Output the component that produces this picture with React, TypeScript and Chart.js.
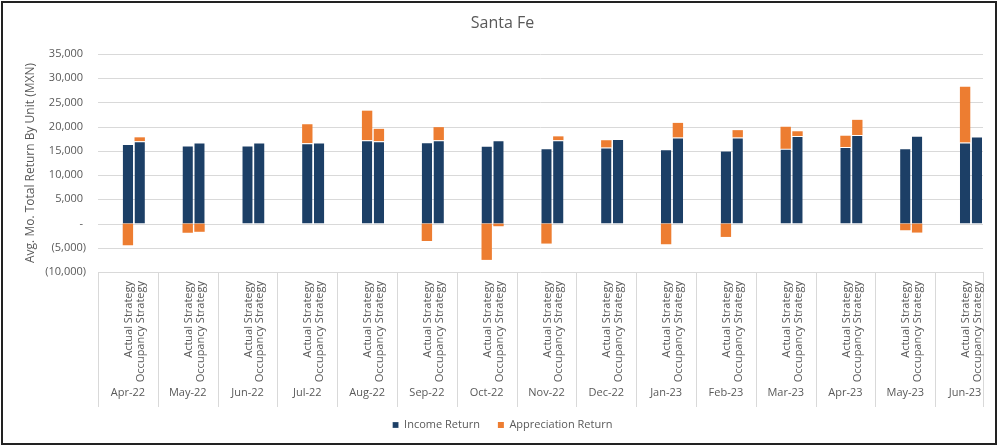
import { useEffect, useRef } from "react";
import { Chart, registerables } from "chart.js";

Chart.register(...registerables);

const months = [
  "Apr-22", "May-22", "Jun-22", "Jul-22", "Aug-22", "Sep-22", "Oct-22", "Nov-22",
  "Dec-22", "Jan-23", "Feb-23", "Mar-23", "Apr-23", "May-23", "Jun-23",
];
const strategies = ["Actual Strategy", "Occupancy Strategy"];
const seriesNames = ["Income Return", "Appreciation Return"];

const incomeActual = [16400, 16100, 16100, 16600, 17200, 16800, 16050, 15570, 15700, 15360, 15090, 15430, 15780, 15570, 16740];
const appreciationActual = [-4480, -1900, 0, 3900, 6100, -3600, -7500, -4130, 1500, -4270, -2760, 4550, 2350, -1380, 11500];
const incomeOccupancy = [17000, 16750, 16750, 16750, 17000, 17200, 17200, 17200, 17430, 17780, 17780, 18050, 18260, 18120, 17980];
const appreciationOccupancy = [800, -1700, 0, 0, 2550, 2700, -550, 800, 0, 3000, 1500, 1000, 3150, -1860, 0];

const yMin = -10000;
const yMax = 35000;
const yStep = 5000;

const NAVY = "#1c3f66";
const ORANGE = "#ED7D31";
const TEXT = "#595959";
const GRID = "#d9d9d9";
const FONT = "'Open Sans', sans-serif";
const CLIP_RIGHT = 12;
const TABLE_H = 135;
const PAD_LEFT = 10;

function fmt(v: number): string {
  if (v === 0) return "- ";
  const s = Math.abs(v).toLocaleString("en-US");
  return v < 0 ? `(${s})` : `${s} `;
}

const tablePlugin = {
  id: "tableAxis",
  beforeDatasetsDraw(chart: any) {
    const { ctx, chartArea, scales } = chart;
    const y = scales.y;
    ctx.save();
    ctx.strokeStyle = GRID;
    ctx.lineWidth = 1;
    y.ticks.forEach((t: any) => {
      const py = Math.round(y.getPixelForValue(t.value)) + 0.5;
      ctx.beginPath();
      ctx.moveTo(chartArea.left, py);
      ctx.lineTo(chartArea.right - CLIP_RIGHT, py);
      ctx.stroke();
    });
    ctx.restore();
  },
  afterDraw(chart: any) {
    const { ctx, chartArea, scales } = chart;
    const x = scales.x;
    const n = months.length;
    const w = (chartArea.right - chartArea.left) / n;
    const top = chartArea.bottom;
    const bottom = top + TABLE_H;
    const rightLimit = chartArea.right - CLIP_RIGHT;

    ctx.save();
    ctx.beginPath();
    ctx.rect(0, 0, rightLimit + 1, chart.height);
    ctx.clip();

    ctx.strokeStyle = GRID;
    ctx.lineWidth = 1;
    for (let k = 0; k < n; k++) {
      const px = Math.round(x.getPixelForValue(k) - w / 2) + 0.5;
      ctx.beginPath();
      ctx.moveTo(px, top);
      ctx.lineTo(px, bottom);
      ctx.stroke();
    }
    const rx = Math.round(rightLimit) + 0.5;
    ctx.beginPath();
    ctx.moveTo(rx, top);
    ctx.lineTo(rx, bottom);
    ctx.stroke();

    ctx.fillStyle = TEXT;
    ctx.font = `11px ${FONT}`;
    const stratMetas = [chart.getDatasetMeta(1), chart.getDatasetMeta(3)];
    for (let j = 0; j < n; j++) {
      stratMetas.forEach((meta: any, s: number) => {
        const el = meta.data[j];
        if (!el) return;
        ctx.save();
        ctx.translate(el.x + 1, top + 9);
        ctx.rotate(-Math.PI / 2);
        ctx.textAlign = "right";
        ctx.textBaseline = "middle";
        ctx.fillText(strategies[s], 0, 0);
        ctx.restore();
      });
      ctx.textAlign = "center";
      ctx.textBaseline = "middle";
      ctx.fillText(months[j], x.getPixelForValue(j), top + 121);
    }
    ctx.restore();

    ctx.save();
    ctx.strokeStyle = "#222222";
    ctx.lineWidth = 2;
    ctx.strokeRect(2, 2, 994, 442);
    ctx.restore();
  },
};

export default function App() {
  const ref = useRef<HTMLCanvasElement | null>(null);

  useEffect(() => {
    if (!ref.current) return;
    const clip = { left: 5, top: 5, right: -CLIP_RIGHT, bottom: 5 };
    const chart = new Chart(ref.current, {
      type: "bar",
      data: {
        labels: months,
        datasets: [
          {
            label: "spacer",
            data: months.map(() => null),
            stack: "S",
            backgroundColor: "rgba(0,0,0,0)",
          },
          {
            label: seriesNames[0],
            data: incomeActual,
            stack: "A",
            backgroundColor: NAVY,
            borderColor: "#ffffff",
            borderWidth: { top: 1, right: 0, bottom: 0, left: 0 },
            borderSkipped: false,
            clip,
          },
          {
            label: seriesNames[1],
            data: appreciationActual,
            stack: "A",
            backgroundColor: ORANGE,
            borderWidth: 0,
            clip,
          },
          {
            label: seriesNames[0],
            data: incomeOccupancy,
            stack: "O",
            backgroundColor: NAVY,
            borderColor: "#ffffff",
            borderWidth: { top: 1, right: 0, bottom: 0, left: 0 },
            borderSkipped: false,
            clip,
          },
          {
            label: seriesNames[1],
            data: appreciationOccupancy,
            stack: "O",
            backgroundColor: ORANGE,
            borderWidth: 0,
            clip,
          },
        ] as any,
      },
      options: {
        responsive: false,
        animation: false,
        layout: { padding: { top: 0, left: PAD_LEFT, right: 5, bottom: 6.5 } },
        datasets: {
          bar: { categoryPercentage: 0.592, barPercentage: 0.88 },
        },
        scales: {
          x: {
            stacked: true,
            ticks: { display: false },
            grid: { display: false },
            border: { display: false },
            afterFit: (s: any) => {
              s.height = 129.5;
            },
          },
          y: {
            stacked: true,
            min: yMin,
            max: yMax,
            ticks: {
              stepSize: yStep,
              callback: (v: any) => fmt(Number(v)),
              color: TEXT,
              font: { family: FONT, size: 11 },
              padding: 12,
            },
            grid: { display: false, drawTicks: false },
            border: { display: false },
            title: {
              display: true,
              text: "Avg. Mo. Total Return By Unit (MXN)",
              color: TEXT,
              font: { family: FONT, size: 12 },
              padding: { top: 23 - PAD_LEFT, bottom: 0 },
            },
            afterFit: (s: any) => {
              s.width = 98 - PAD_LEFT;
            },
          },
        },
        plugins: {
          title: {
            display: true,
            text: "Santa Fe",
            color: TEXT,
            font: { family: FONT, size: 16, weight: "normal" },
            padding: { top: 14, bottom: 20.8 },
          },
          legend: {
            position: "bottom",
            labels: {
              color: TEXT,
              font: { family: FONT, size: 11 },
              boxWidth: 6,
              boxHeight: 6,
              padding: 18,
              filter: (item: any) => item.datasetIndex === 1 || item.datasetIndex === 2,
            },
          },
          tooltip: { enabled: false },
        },
      } as any,
      plugins: [tablePlugin],
    });
    return () => chart.destroy();
  }, []);

  return (
    <div style={{ position: "fixed", left: 0, top: 0, width: 1000, height: 447, background: "#ffffff" }}>
      <canvas ref={ref} width={1000} height={447} style={{ width: 1000, height: 447, display: "block" }} />
    </div>
  );
}
